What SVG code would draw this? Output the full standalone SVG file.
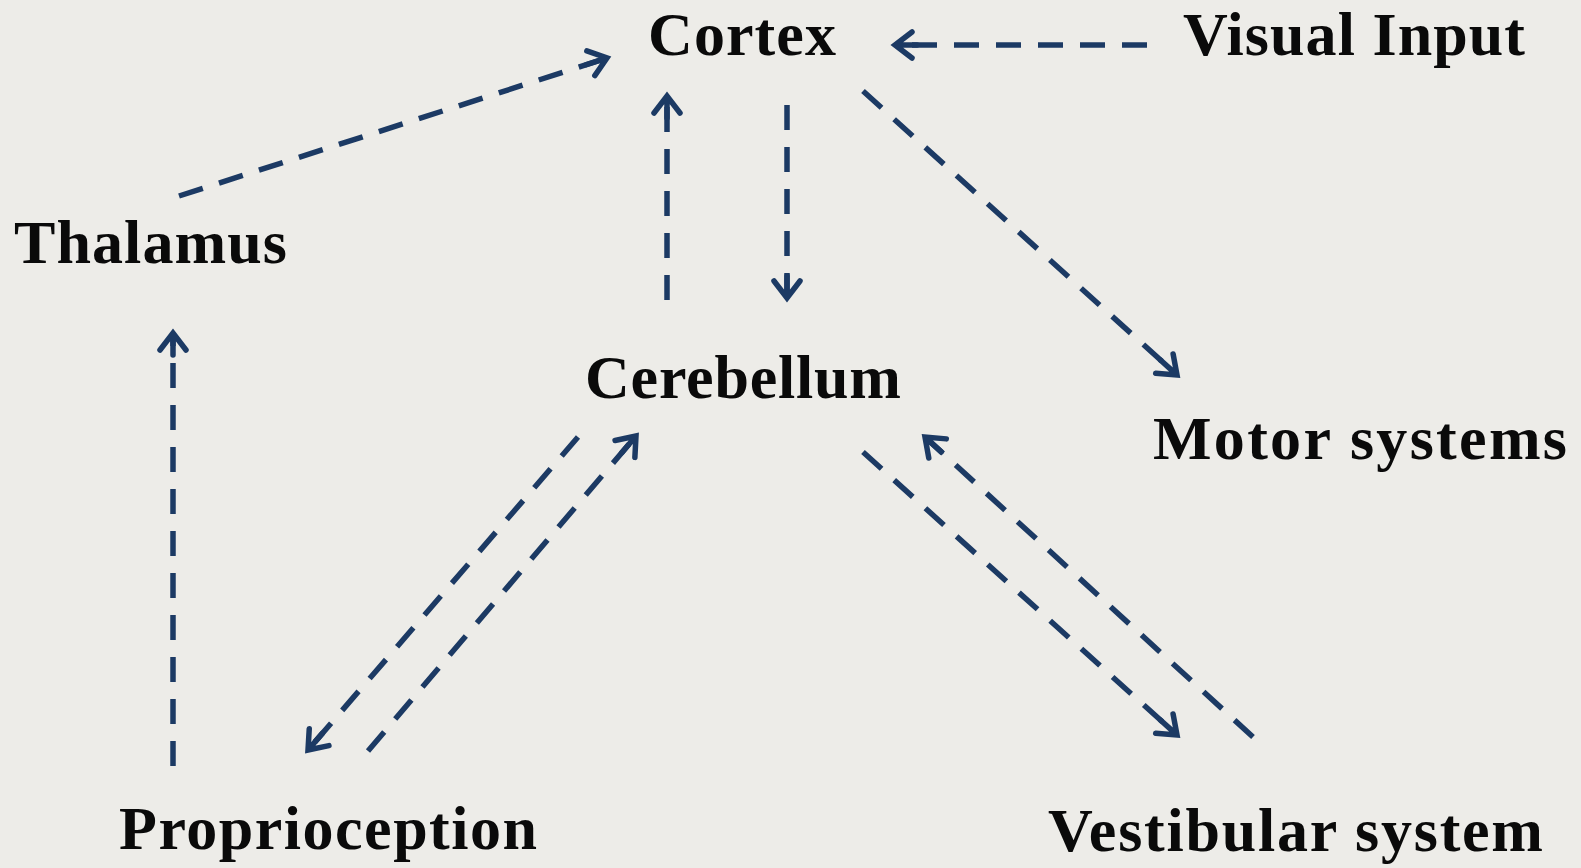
<svg xmlns="http://www.w3.org/2000/svg" width="1581" height="868" viewBox="0 0 1581 868">
<style>
.lbl{font-family:"Liberation Serif","Times New Roman",serif;font-weight:bold;font-size:62px;fill:#0a0a0a}
.c{fill:none;stroke:#1c3a64;stroke-width:5.5;stroke-dasharray:25 17}
</style>
<defs>
<marker id="ah" markerUnits="userSpaceOnUse" viewBox="-30 -20 40 40" markerWidth="40" markerHeight="40" refX="0" refY="0" orient="auto" overflow="visible">
<path d="M-22,0 L-2,0 M-17,-13 L0,0 L-17,13" fill="none" stroke="#1c3a64" stroke-width="5.5" stroke-linecap="round" stroke-linejoin="miter"/>
</marker>
</defs>
<rect width="1581" height="868" fill="#edece8"/>
<g id="connectors">
<line class="c" x1="179" y1="196" x2="607" y2="58" marker-end="url(#ah)"/>
<line class="c" x1="1147" y1="45" x2="895" y2="45" marker-end="url(#ah)"/>
<line class="c" x1="667" y1="300" x2="667" y2="96" marker-end="url(#ah)"/>
<line class="c" x1="787" y1="105" x2="787" y2="298" marker-end="url(#ah)"/>
<line class="c" x1="863" y1="91" x2="1177" y2="375" marker-end="url(#ah)"/>
<line class="c" x1="173" y1="766" x2="173" y2="333" marker-end="url(#ah)"/>
<line class="c" x1="578" y1="437" x2="308" y2="750" marker-end="url(#ah)"/>
<line class="c" x1="368" y1="751" x2="636" y2="436" marker-end="url(#ah)"/>
<line class="c" x1="863" y1="452" x2="1177" y2="735" marker-end="url(#ah)"/>
<line class="c" x1="1253" y1="737" x2="925" y2="437" marker-end="url(#ah)"/>
</g>
<g id="cortex"><text class="lbl" x="648" y="55" textLength="188">Cortex</text></g>
<g id="visual-input"><text class="lbl" x="1183" y="55" textLength="342">Visual Input</text></g>
<g id="thalamus"><text class="lbl" x="14" y="263" textLength="273">Thalamus</text></g>
<g id="cerebellum"><text class="lbl" x="585" y="398" textLength="316">Cerebellum</text></g>
<g id="motor-systems"><text class="lbl" x="1153" y="459" textLength="414">Motor systems</text></g>
<g id="proprioception"><text class="lbl" x="119" y="849" textLength="418">Proprioception</text></g>
<g id="vestibular-system"><text class="lbl" x="1048" y="851" textLength="495">Vestibular system</text></g>
</svg>
